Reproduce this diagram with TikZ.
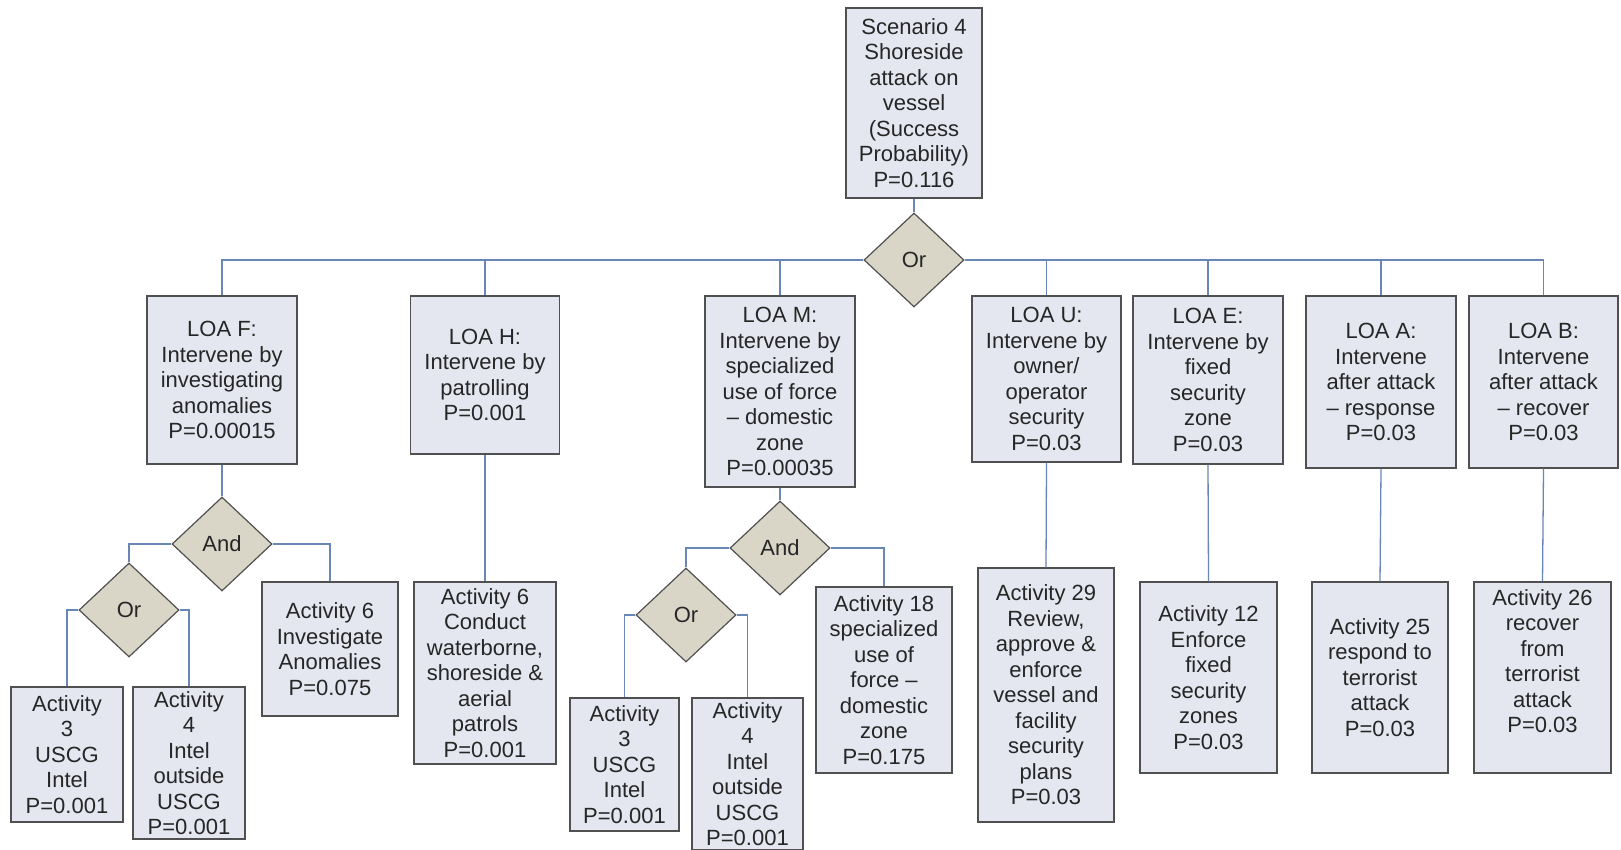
\documentclass[tikz,border=0pt]{standalone}
\usepackage{fontspec}
\setmainfont{Liberation Sans}
\usetikzlibrary{shapes.geometric}
\definecolor{boxfill}{RGB}{228,231,239}
\definecolor{boxline}{RGB}{80,80,80}
\definecolor{gatefill}{RGB}{217,214,200}
\definecolor{wire}{RGB}{105,135,180}
\tikzset{
  box/.style={draw=boxline, line width=1.4pt, fill=boxfill, align=center, inner sep=0pt,
    font=\fontsize{22}{25.5}\selectfont, text=black!85},
  gate/.style={diamond, draw=boxline, line width=1.2pt, fill=gatefill, inner sep=0pt,
    minimum width=100pt, minimum height=94pt, font=\fontsize{22}{25.5}\selectfont, text=black!85},
  wire/.style={draw=wire, line width=1.3pt}
}
\newcommand{\bx}[6]{\node[box, minimum width=#4pt, minimum height=#5pt] (#1) at (#2,#3) {#6};}
\begin{document}
\begin{tikzpicture}[x=1pt,y=-1pt]
\useasboundingbox (0,0) rectangle (1621,850);
% top
\bx{top}{914}{103}{136}{190}{Scenario 4\\Shoreside\\attack on\\vessel\\(Success\\Probability)\\P=0.116}
\node[gate] (or0) at (914,260) {Or};
% LOA level
\bx{loaF}{222}{380}{150}{168}{LOA F:\\Intervene by\\investigating\\anomalies\\P=0.00015}
\bx{loaH}{485}{375}{149}{158}{LOA H:\\Intervene by\\patrolling\\P=0.001}
\bx{loaM}{780}{391.5}{150}{191}{LOA M:\\Intervene by\\specialized\\use of force\\– domestic\\zone\\P=0.00035}
\bx{loaU}{1046.5}{379}{149}{166}{LOA U:\\Intervene by\\owner/\\operator\\security\\P=0.03}
\bx{loaE}{1208}{380}{150}{168}{LOA E:\\Intervene by\\fixed\\security\\zone\\P=0.03}
\bx{loaA}{1381}{382}{150}{172}{LOA A:\\Intervene\\after attack\\– response\\P=0.03}
\bx{loaB}{1543.5}{382}{149}{172}{LOA B:\\Intervene\\after attack\\– recover\\P=0.03}
% F branch
\node[gate] (andF) at (222,544) {And};
\node[gate] (orF) at (129,610) {Or};
\bx{actThreeF}{67}{754.5}{112}{135}{Activity\\3\\USCG\\Intel\\P=0.001}
\bx{actFourF}{189}{763}{112}{152}{Activity\\4\\Intel\\outside\\USCG\\P=0.001}
\bx{actSixF}{330}{649}{136}{134}{Activity 6\\Investigate\\Anomalies\\P=0.075}
% H branch
\bx{actSixH}{485}{673}{142}{182}{Activity 6\\Conduct\\waterborne,\\shoreside \&\\aerial\\patrols\\P=0.001}
% M branch
\node[gate] (andM) at (780,548) {And};
\node[gate] (orM) at (686,615) {Or};
\bx{actThreeM}{624.5}{764.5}{109}{133}{Activity\\3\\USCG\\Intel\\P=0.001}
\bx{actFourM}{747.5}{774}{111}{152}{Activity\\4\\Intel\\outside\\USCG\\P=0.001}
\bx{actEighteen}{884}{680}{136}{186}{Activity 18\\specialized\\use of\\force –\\domestic\\zone\\P=0.175}
% right activities
\bx{actTwentyNine}{1046}{695}{136}{254}{Activity 29\\Review,\\approve \&\\enforce\\vessel and\\facility\\security\\plans\\P=0.03}
\bx{actTwelve}{1208.5}{677.5}{137}{191}{Activity 12\\Enforce\\fixed\\security\\zones\\P=0.03}
\bx{actTwentyFive}{1380}{677.5}{136}{191}{Activity 25\\respond to\\terrorist\\attack\\P=0.03}
\bx{actTwentySix}{1542.5}{677.5}{137}{191}{Activity 26\\recover\\from\\terrorist\\attack\\P=0.03\\\strut}
% connectors
\draw[wire] (top.south) -- (or0.north);
\draw[wire] (or0.west) -| (loaF.north);
\draw[wire] (or0.west) -| (loaH.north);
\draw[wire] (or0.west) -| (loaM.north);
\draw[wire] (or0.east) -| (loaU.north);
\draw[wire] (or0.east) -| (loaE.north);
\draw[wire] (or0.east) -| (loaA.north);
\draw[wire] (or0.east) -| (loaB.north);
\draw[wire] (loaF.south) -- (andF.north);
\draw[wire] (andF.west) -| (orF.north);
\draw[wire] (andF.east) -| (actSixF.north);
\draw[wire] (orF.west) -| (actThreeF.north);
\draw[wire] (orF.east) -| (actFourF.north);
\draw[wire] (loaH.south) -- (actSixH.north);
\draw[wire] (loaM.south) -- (andM.north);
\draw[wire] (andM.west) -| (orM.north);
\draw[wire] (andM.east) -| (actEighteen.north);
\draw[wire] (orM.west) -| (actThreeM.north);
\draw[wire] (orM.east) -| (actFourM.north);
\draw[wire] (loaU.south) -- (actTwentyNine.north);
\draw[wire] (loaE.south) -- (actTwelve.north);
\draw[wire] (loaA.south) -- (actTwentyFive.north);
\draw[wire] (loaB.south) -- (actTwentySix.north);
\end{tikzpicture}
\end{document}
